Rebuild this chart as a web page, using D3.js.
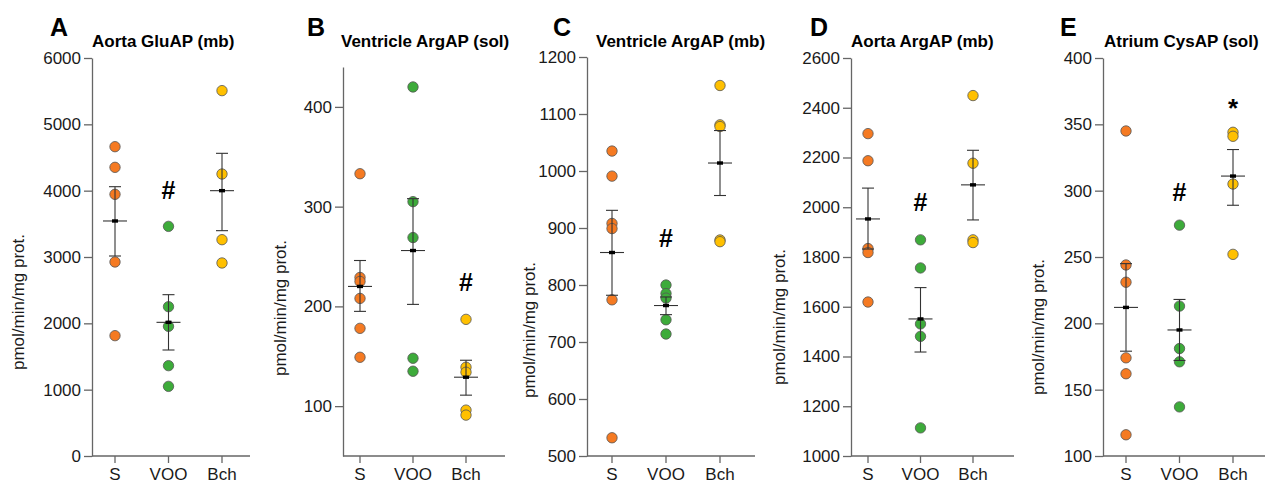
<!DOCTYPE html>
<html>
<head>
<meta charset="utf-8">
<script src="https://cdn.jsdelivr.net/npm/d3@7"></script>
<style>
  body { margin: 0; background: #fff; }
  svg { display: block; font-family: Arial, "Liberation Sans", sans-serif; }
</style>
</head>
<body>
<div id="chart"></div>
<script>
// groups and panel texts
var groups = ["S", "VOO", "Bch"];
var panelLetters = ["A", "B", "C", "D", "E"];
var panelTitles = ["Aorta GluAP (mb)", "Ventricle ArgAP (sol)", "Ventricle ArgAP (mb)", "Aorta ArgAP (mb)", "Atrium CysAP (sol)"];
var yLabel = "pmol/min/mg  prot.";

// axis domains and tick labels
var yDomains = [[0, 6000], [50, 440], [500, 1200], [1000, 2600], [100, 400]];
var yTicks = [
  [0, 1000, 2000, 3000, 4000, 5000, 6000],
  [100, 200, 300, 400],
  [500, 600, 700, 800, 900, 1000, 1100, 1200],
  [1000, 1200, 1400, 1600, 1800, 2000, 2200, 2400, 2600],
  [100, 150, 200, 250, 300, 350, 400]
];

// individual values, per group S / VOO / Bch
var pointsA = [[4663, 4352, 3945, 2925, 1814], [3462, 2251, 1955, 1362, 1050], [5508, 4251, 3261, 2910]];
var pointsB = [[333, 229, 225, 208, 178, 149], [420, 305, 269, 148, 135], [187, 139, 134, 96, 91]];
var pointsC = [[1035, 991, 908, 899, 774, 532], [800, 785, 777, 739, 714], [1150, 1081, 1078, 879, 876]];
var pointsD = [[2296, 2187, 1834, 1818, 1619], [1869, 1756, 1531, 1481, 1113], [2449, 2177, 1869, 1858]];
var pointsE = [[345, 244, 231, 174, 162, 116], [274, 213, 181, 171, 137], [344, 341, 305, 252]];

// mean and SEM limits
var meanA = [3543, 2015, 4000], hiA = [4060, 2432, 4563], loA = [3015, 1598, 3397];
var meanB = [220, 256, 129], hiB = [246, 308, 146], loB = [195, 202, 111];
var meanC = [857, 764, 1014], hiC = [931, 779, 1071], loC = [782, 748, 957];
var meanD = [1953, 1551, 2090], hiD = [2077, 1677, 2229], loD = [1832, 1418, 1949];
var meanE = [212, 195, 311], hiE = [245, 218, 331], loE = [179, 172, 289];

// significance marks: [group, value, symbol]
var marksA = [["VOO", 4010, "#"]];
var marksB = [["Bch", 224, "#"]];
var marksC = [["VOO", 882, "#"]];
var marksD = [["VOO", 2022, "#"]];
var marksE = [["VOO", 299, "#"], ["Bch", 370, "*"]];

var colors = ["#f57a22", "#3dab3a", "#ffc000"];

var panels = [
  { pts: pointsA, mean: meanA, hi: hiA, lo: loA, marks: marksA },
  { pts: pointsB, mean: meanB, hi: hiB, lo: loB, marks: marksB },
  { pts: pointsC, mean: meanC, hi: hiC, lo: loC, marks: marksC },
  { pts: pointsD, mean: meanD, hi: hiD, lo: loD, marks: marksD },
  { pts: pointsE, mean: meanE, hi: hiE, lo: loE, marks: marksE }
];

// layout of each panel
var layout = [
  { axisX: 92, endX: 250, cats: [115, 222], top: 58, letterX: 50, titleX: 92, labX: 24, labY: 302 },
  { axisX: 343, endX: 505, cats: [360, 466], top: 67, letterX: 307, titleX: 341, labX: 286, labY: 308 },
  { axisX: 587, endX: 755, cats: [612, 720], top: 57, letterX: 553, titleX: 596, labX: 535, labY: 330 },
  { axisX: 851, endX: 1014, cats: [868, 973], top: 58, letterX: 810, titleX: 851, labX: 785, labY: 317 },
  { axisX: 1103, endX: 1265, cats: [1126, 1233], top: 58, letterX: 1060, titleX: 1104, labX: 1044, labY: 327 }
];
var bottom = 456;

var svg = d3.select("#chart").append("svg")
  .attr("width", 1269)
  .attr("height", 485);

panels.forEach(function(p, i) {
  var L = layout[i];
  var g = svg.append("g");

  var x = d3.scalePoint().domain(groups).range(L.cats);
  var y = d3.scaleLinear().domain(yDomains[i]).range([bottom, L.top]);

  // y axis
  var yAxis = g.append("g")
    .attr("transform", "translate(" + L.axisX + ",0)")
    .call(d3.axisLeft(y).tickValues(yTicks[i]).tickFormat(d3.format("d"))
      .tickSize(8).tickSizeOuter(0).tickPadding(3));
  yAxis.select(".domain").attr("stroke", "#666").attr("stroke-width", 1.3);
  yAxis.selectAll(".tick line").attr("stroke", "#666").attr("stroke-width", 1.3);
  yAxis.selectAll(".tick text").attr("font-size", 17).attr("fill", "#1a1a1a");

  // x axis
  g.append("line")
    .attr("x1", L.axisX).attr("x2", L.endX)
    .attr("y1", bottom).attr("y2", bottom)
    .attr("stroke", "#666").attr("stroke-width", 1.3);
  g.selectAll(".xtick")
    .data(groups)
    .enter()
    .append("line")
    .attr("x1", function(d) { return x(d); })
    .attr("x2", function(d) { return x(d); })
    .attr("y1", bottom).attr("y2", bottom + 7)
    .attr("stroke", "#666").attr("stroke-width", 1.3);
  g.selectAll(".xlab")
    .data(groups)
    .enter()
    .append("text")
    .attr("x", function(d) { return x(d); })
    .attr("y", 480)
    .attr("text-anchor", "middle")
    .attr("font-size", 17)
    .attr("fill", "#1a1a1a")
    .text(function(d) { return d; });

  // y label
  g.append("text")
    .attr("transform", "translate(" + L.labX + "," + L.labY + ")rotate(-90)")
    .attr("text-anchor", "middle")
    .attr("font-size", 17)
    .attr("fill", "#1a1a1a")
    .text(yLabel);

  // letter and title
  g.append("text")
    .attr("x", L.letterX).attr("y", 36)
    .attr("font-size", 25)
    .attr("font-weight", "bold")
    .attr("fill", "#000")
    .text(panelLetters[i]);
  g.append("text")
    .attr("x", L.titleX).attr("y", 47)
    .attr("font-size", 17)
    .attr("font-weight", "bold")
    .attr("fill", "#000")
    .text(panelTitles[i]);

  // dots
  groups.forEach(function(grp, j) {
    g.selectAll(".dot" + j)
      .data(p.pts[j])
      .enter()
      .append("circle")
      .attr("cx", x(grp))
      .attr("cy", function(d) { return y(d); })
      .attr("r", 5.2)
      .attr("fill", colors[j])
      .attr("stroke", "#555")
      .attr("stroke-width", 0.8);
  });

  // mean and SEM
  groups.forEach(function(grp, j) {
    var cx = x(grp);
    g.append("line")
      .attr("x1", cx).attr("x2", cx)
      .attr("y1", y(p.hi[j])).attr("y2", y(p.lo[j]))
      .attr("stroke", "#333").attr("stroke-width", 1.1);
    [p.hi[j], p.lo[j]].forEach(function(v) {
      g.append("line")
        .attr("x1", cx - 6).attr("x2", cx + 6)
        .attr("y1", y(v)).attr("y2", y(v))
        .attr("stroke", "#333").attr("stroke-width", 1.1);
    });
    g.append("line")
      .attr("x1", cx - 12).attr("x2", cx + 12)
      .attr("y1", y(p.mean[j])).attr("y2", y(p.mean[j]))
      .attr("stroke", "#333").attr("stroke-width", 1.1);
    g.append("rect")
      .attr("x", cx - 3).attr("y", y(p.mean[j]) - 1.7)
      .attr("width", 6).attr("height", 3.4)
      .attr("fill", "#000");
  });

  // significance
  g.selectAll(".mark")
    .data(p.marks)
    .enter()
    .append("text")
    .attr("x", function(d) { return x(d[0]); })
    .attr("y", function(d) { return y(d[1]); })
    .attr("dy", function(d) { return d[2] == "*" ? "0.75em" : "0.36em"; })
    .attr("text-anchor", "middle")
    .attr("font-size", function(d) { return d[2] == "*" ? 26 : 25; })
    .attr("font-weight", "bold")
    .attr("fill", "#000")
    .text(function(d) { return d[2]; });
});
</script>
</body>
</html>
